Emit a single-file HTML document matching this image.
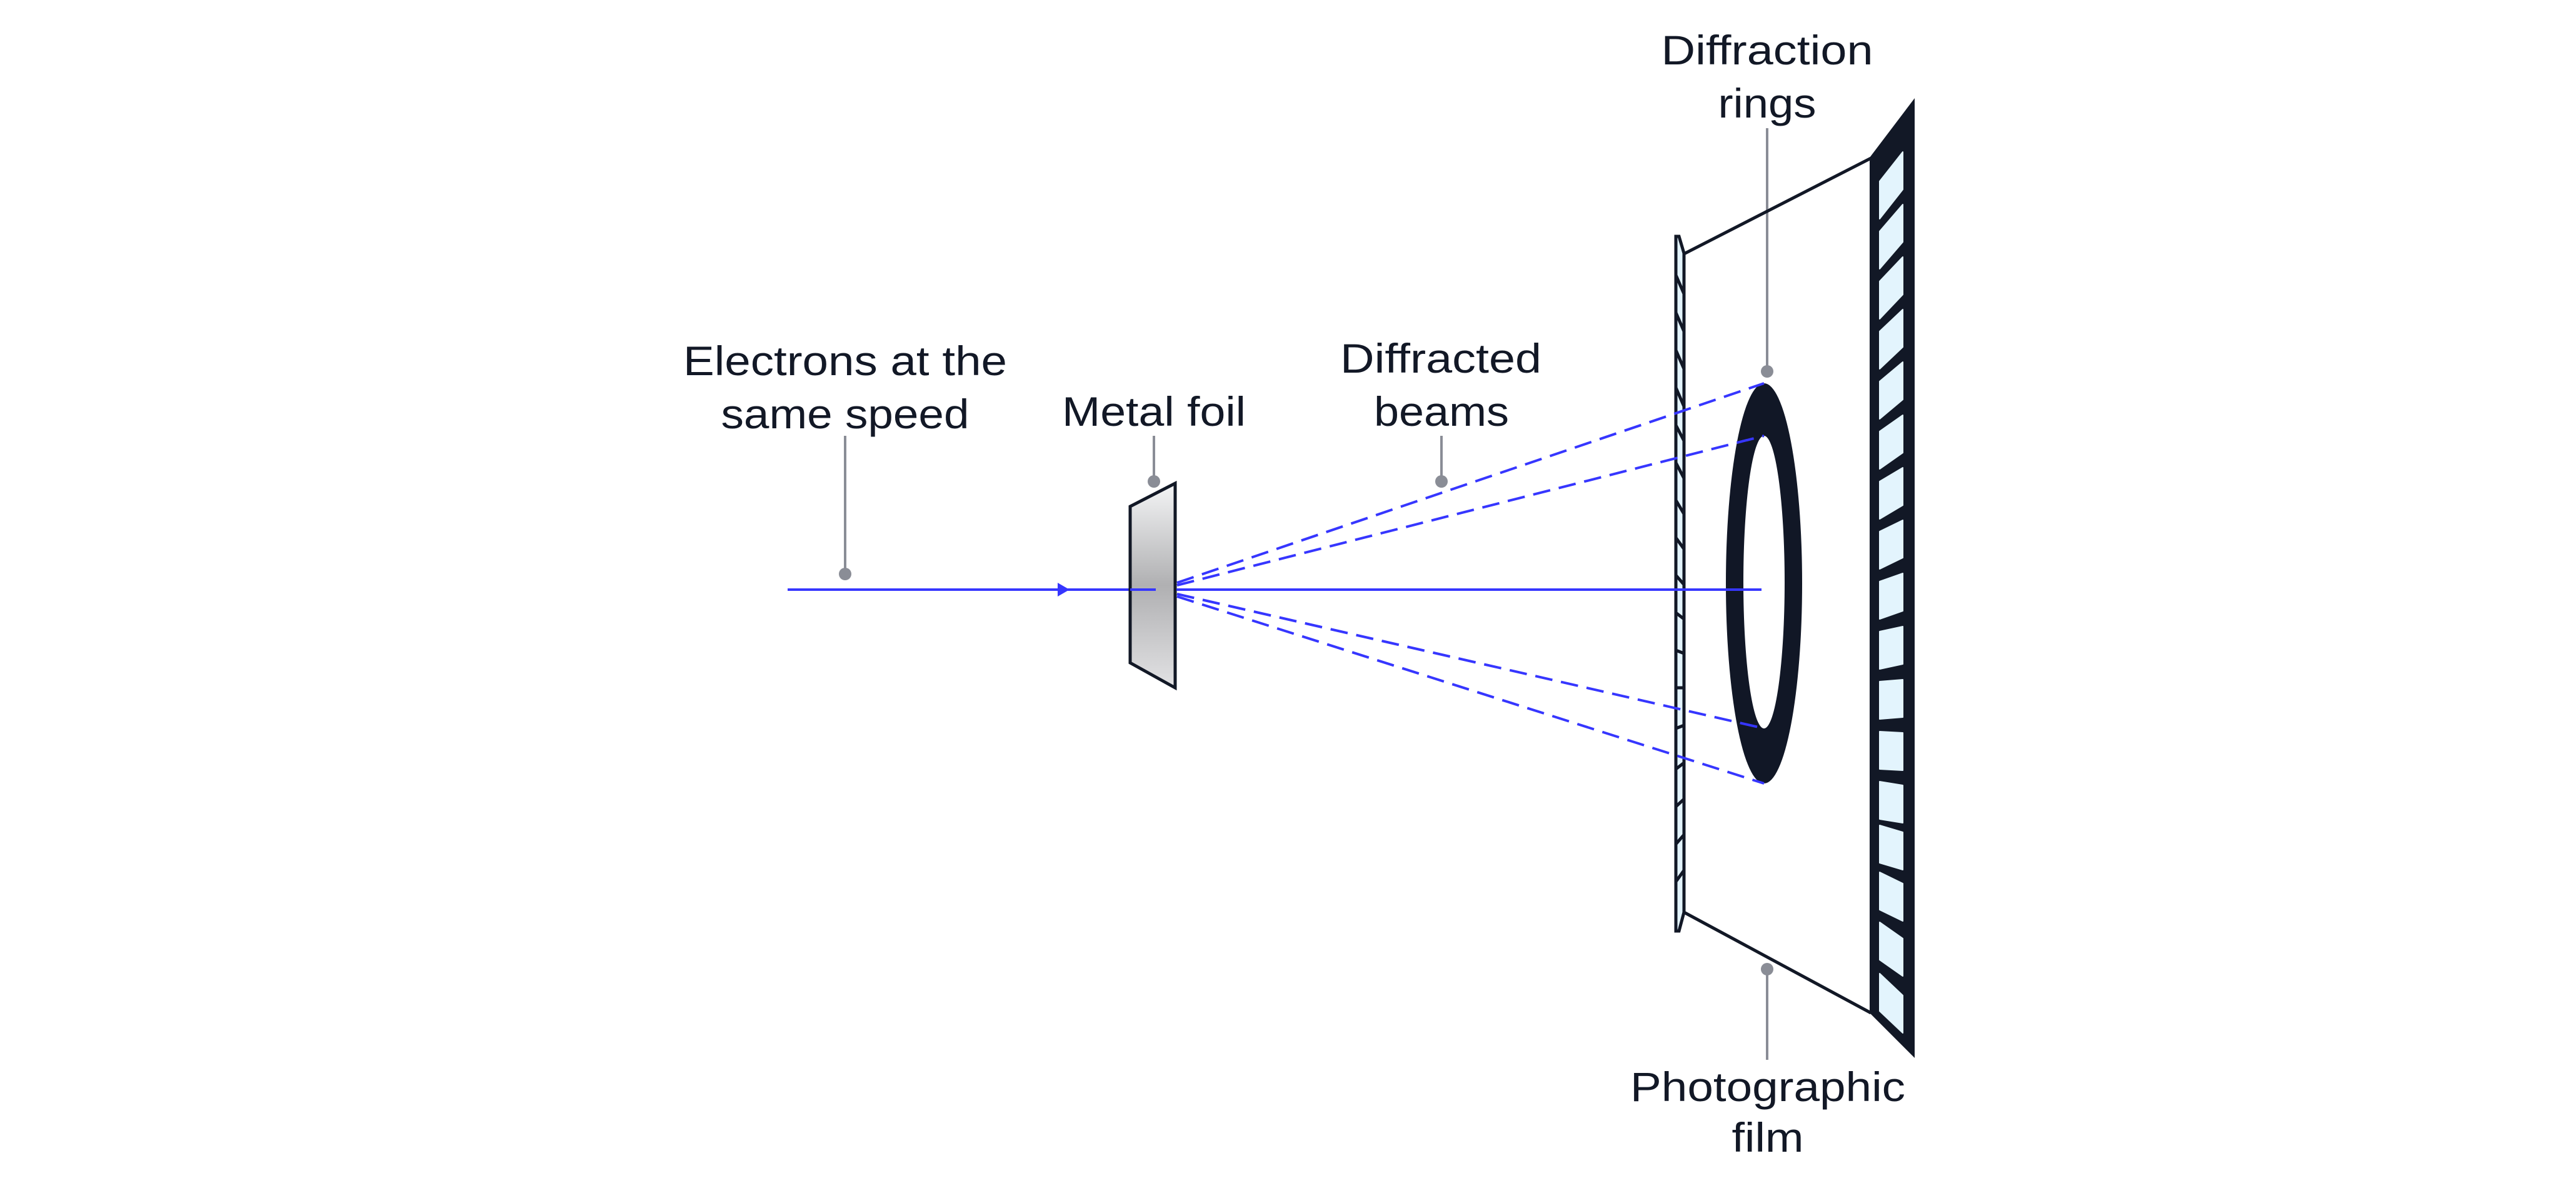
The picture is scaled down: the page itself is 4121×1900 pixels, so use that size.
<!DOCTYPE html>
<html><head><meta charset="utf-8"><style>
html,body{margin:0;padding:0;background:#fff;}
svg{display:block}
text{font-family:"Liberation Sans",sans-serif;fill:#121826;font-size:66px;}
</style></head><body>
<svg width="4121" height="1900" viewBox="0 0 4121 1900" xmlns="http://www.w3.org/2000/svg">
<defs>
<linearGradient id="fg" x1="0" y1="0" x2="0" y2="1">
<stop offset="0" stop-color="#f4f5f6"/>
<stop offset="0.5" stop-color="#b0b0b2"/>
<stop offset="1" stop-color="#e2e2e4"/>
</linearGradient>
</defs>

<text x="1352" y="600" text-anchor="middle" textLength="518" lengthAdjust="spacingAndGlyphs">Electrons at the</text>
<text x="1352" y="685" text-anchor="middle" textLength="397" lengthAdjust="spacingAndGlyphs">same speed</text>
<text x="1846" y="681" text-anchor="middle" textLength="294" lengthAdjust="spacingAndGlyphs">Metal foil</text>
<text x="2305" y="596" text-anchor="middle" textLength="322" lengthAdjust="spacingAndGlyphs">Diffracted</text>
<text x="2306" y="681" text-anchor="middle" textLength="216" lengthAdjust="spacingAndGlyphs">beams</text>
<text x="2827" y="103" text-anchor="middle" textLength="339" lengthAdjust="spacingAndGlyphs">Diffraction</text>
<text x="2827" y="188" text-anchor="middle" textLength="157" lengthAdjust="spacingAndGlyphs">rings</text>
<text x="2828" y="1761" text-anchor="middle" textLength="440" lengthAdjust="spacingAndGlyphs">Photographic</text>
<text x="2828" y="1842" text-anchor="middle" textLength="115" lengthAdjust="spacingAndGlyphs">film</text>

<g stroke="#8a8d96" stroke-width="4" fill="none">
<line x1="1352" y1="697" x2="1352" y2="915"/>
<line x1="1846" y1="697" x2="1846" y2="770"/>
<line x1="2306" y1="697" x2="2306" y2="770"/>
<line x1="2827" y1="205" x2="2827" y2="594"/>
<line x1="2827" y1="1550" x2="2827" y2="1695"/>
</g>
<g fill="#8a8d96">
<circle cx="1352" cy="918" r="10"/>
<circle cx="1846" cy="770" r="10"/>
<circle cx="2306" cy="770" r="10"/>
<circle cx="2827" cy="594" r="10"/>
<circle cx="2827" cy="1550" r="10"/>
</g>

<line x1="1260" y1="943" x2="1850" y2="943" stroke="#3636ff" stroke-width="4"/>
<polygon points="1692,932 1711,943 1692,954" fill="#3636ff"/>

<polygon points="1808,810 1880,773 1880,1100 1808,1060" fill="url(#fg)" stroke="#121826" stroke-width="5"/>
<line x1="1808" y1="943" x2="1849" y2="943" stroke="#3636ff" stroke-width="4"/>

<!-- left plate -->
<polygon points="2681,378 2686,378 2694,405 2694,1459 2686,1489 2681,1489" fill="#e3f4fd" stroke="#121826" stroke-width="5"/>
<g stroke="#121826" stroke-width="5">
<line x1="2681" y1="440" x2="2694" y2="470"/>
<line x1="2681" y1="500" x2="2694" y2="530"/>
<line x1="2681" y1="560" x2="2694" y2="590"/>
<line x1="2681" y1="620" x2="2694" y2="650"/>
<line x1="2681" y1="680" x2="2694" y2="705"/>
<line x1="2681" y1="740" x2="2694" y2="765"/>
<line x1="2681" y1="800" x2="2694" y2="822"/>
<line x1="2681" y1="860" x2="2694" y2="878"/>
<line x1="2681" y1="920" x2="2694" y2="935"/>
<line x1="2681" y1="980" x2="2694" y2="990"/>
<line x1="2681" y1="1040" x2="2694" y2="1045"/>
<line x1="2681" y1="1100" x2="2694" y2="1100"/>
<line x1="2681" y1="1165" x2="2694" y2="1160"/>
<line x1="2681" y1="1230" x2="2694" y2="1220"/>
<line x1="2681" y1="1290" x2="2694" y2="1278"/>
<line x1="2681" y1="1350" x2="2694" y2="1335"/>
<line x1="2681" y1="1410" x2="2694" y2="1392"/>
</g>

<line x1="2694" y1="406" x2="2993" y2="253" stroke="#121826" stroke-width="5"/>
<line x1="2694" y1="1459" x2="2993" y2="1620" stroke="#121826" stroke-width="5"/>

<path fill-rule="evenodd" fill="#111726" d="M2761,933 a61,320 0 1,0 122,0 a61,320 0 1,0 -122,0 Z M2789,931 a33,234 0 1,0 66,0 a33,234 0 1,0 -66,0 Z"/>

<line x1="1882" y1="943" x2="2818" y2="943" stroke="#3636ff" stroke-width="4"/>
<g stroke="#3636ff" stroke-width="4" stroke-dasharray="28,14" fill="none">
<line x1="1883" y1="932" x2="2822" y2="613"/>
<line x1="1883" y1="936" x2="2822" y2="697"/>
<line x1="1883" y1="950" x2="2822" y2="1165"/>
<line x1="1883" y1="954" x2="2822" y2="1253"/>
</g>

<polygon points="2991,252 3063,157 3063,1692 2991,1620" fill="#121826"/>
<g fill="#e3f4fd" stroke="#e3f4fd" stroke-width="2" stroke-linejoin="round">
<polygon points="3007,290 3044,243 3044,303 3007,350"/>
<polygon points="3007,370 3044,327 3044,387 3007,430"/>
<polygon points="3007,450 3044,411 3044,471 3007,510"/>
<polygon points="3007,530 3044,495 3044,555 3007,590"/>
<polygon points="3007,610 3044,579 3044,639 3007,670"/>
<polygon points="3007,690 3044,664 3044,724 3007,750"/>
<polygon points="3007,770 3044,748 3044,808 3007,830"/>
<polygon points="3007,850 3044,832 3044,892 3007,910"/>
<polygon points="3007,930 3044,917 3044,977 3007,990"/>
<polygon points="3007,1010 3044,1002 3044,1062 3007,1070"/>
<polygon points="3007,1090 3044,1087 3044,1147 3007,1150"/>
<polygon points="3007,1170 3044,1172 3044,1232 3007,1230"/>
<polygon points="3007,1250 3044,1256 3044,1316 3007,1310"/>
<polygon points="3007,1320 3044,1331 3044,1391 3007,1380"/>
<polygon points="3007,1395 3044,1413 3044,1473 3007,1455"/>
<polygon points="3007,1475 3044,1501 3044,1561 3007,1535"/>
<polygon points="3007,1557 3044,1592 3044,1652 3007,1617"/>
</g>
</svg>
</body></html>
